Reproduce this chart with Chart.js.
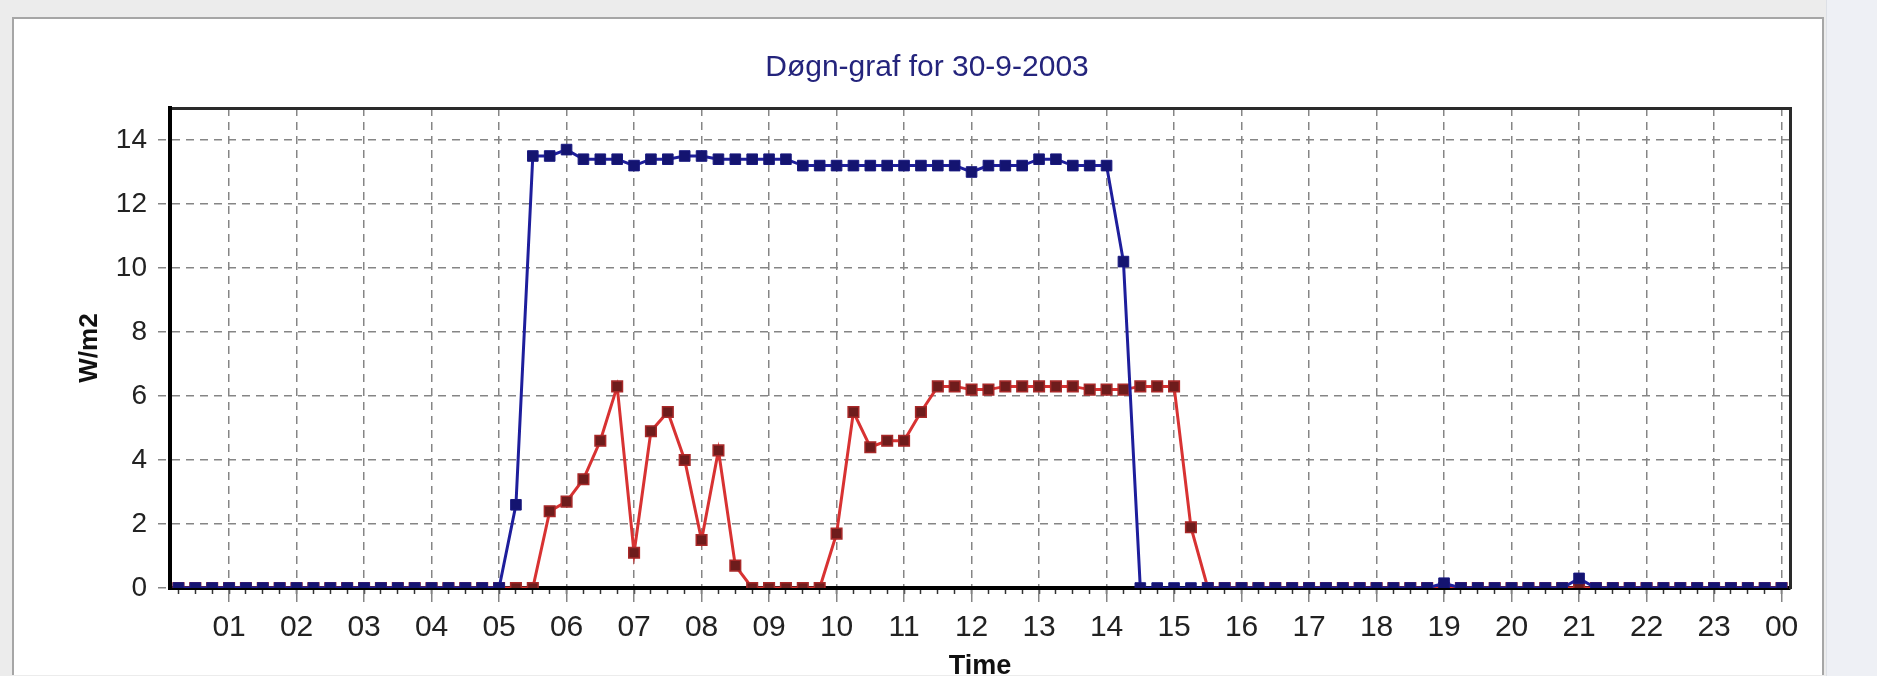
<!DOCTYPE html>
<html>
<head>
<meta charset="utf-8">
<title>Døgn-graf</title>
<script src="https://cdn.jsdelivr.net/npm/chart.js@4.4.1/dist/chart.umd.min.js"></script>
<style>
html, body { margin: 0; padding: 0; }
body { width: 1877px; height: 676px; background: #ececec; position: relative; overflow: hidden; }
#side  { position: absolute; left: 1826px; top: 0; width: 51px; height: 676px; background: #eef0f5; border-left: 1px solid #dde0e6; }
#panel { position: absolute; left: 12px; top: 17px; width: 1808px; height: 656px; background: #fff; border: 2px solid #a6a6a6; border-bottom: 0; }
#chart { position: absolute; left: 0; top: 0; }
</style>
</head>
<body>
<div id="side"></div>
<div id="panel"></div>
<canvas id="chart" width="1877" height="676"></canvas>
<script>
// kvarterstider langs x-aksen
var kvarter = [
  "00:15","00:30","00:45","01:00", "01:15","01:30","01:45","02:00",
  "02:15","02:30","02:45","03:00", "03:15","03:30","03:45","04:00",
  "04:15","04:30","04:45","05:00", "05:15","05:30","05:45","06:00",
  "06:15","06:30","06:45","07:00", "07:15","07:30","07:45","08:00",
  "08:15","08:30","08:45","09:00", "09:15","09:30","09:45","10:00",
  "10:15","10:30","10:45","11:00", "11:15","11:30","11:45","12:00",
  "12:15","12:30","12:45","13:00", "13:15","13:30","13:45","14:00",
  "14:15","14:30","14:45","15:00", "15:15","15:30","15:45","16:00",
  "16:15","16:30","16:45","17:00", "17:15","17:30","17:45","18:00",
  "18:15","18:30","18:45","19:00", "19:15","19:30","19:45","20:00",
  "20:15","20:30","20:45","21:00", "21:15","21:30","21:45","22:00",
  "22:15","22:30","22:45","23:00", "23:15","23:30","23:45","00:00"
];

// etiketter for hele timer
var timeEtiketter = ["01","02","03","04","05","06","07","08","09","10","11","12",
                     "13","14","15","16","17","18","19","20","21","22","23","00"];

// serie 1 (blå)
var serie1 = [
  0, 0, 0, 0, 0, 0, 0, 0,
  0, 0, 0, 0, 0, 0, 0, 0,
  0, 0, 0, 0, 2.6, 13.5, 13.5, 13.7,
  13.4, 13.4, 13.4, 13.2, 13.4, 13.4, 13.5, 13.5,
  13.4, 13.4, 13.4, 13.4, 13.4, 13.2, 13.2, 13.2,
  13.2, 13.2, 13.2, 13.2, 13.2, 13.2, 13.2, 13.0,
  13.2, 13.2, 13.2, 13.4, 13.4, 13.2, 13.2, 13.2,
  10.2, 0, 0, 0, 0, 0, 0, 0,
  0, 0, 0, 0, 0, 0, 0, 0,
  0, 0, 0, 0.15, 0, 0, 0, 0,
  0, 0, 0, 0.3, 0, 0, 0, 0,
  0, 0, 0, 0, 0, 0, 0, 0
];

// serie 2 (rød)
var serie2 = [
  0, 0, 0, 0, 0, 0, 0, 0,
  0, 0, 0, 0, 0, 0, 0, 0,
  0, 0, 0, 0, 0, 0, 2.4, 2.7,
  3.4, 4.6, 6.3, 1.1, 4.9, 5.5, 4.0, 1.5,
  4.3, 0.7, 0, 0, 0, 0, 0, 1.7,
  5.5, 4.4, 4.6, 4.6, 5.5, 6.3, 6.3, 6.2,
  6.2, 6.3, 6.3, 6.3, 6.3, 6.3, 6.2, 6.2,
  6.2, 6.3, 6.3, 6.3, 1.9, 0, 0, 0,
  0, 0, 0, 0, 0, 0, 0, 0,
  0, 0, 0, 0, 0, 0, 0, 0,
  0, 0, 0, 0, 0, 0, 0, 0,
  0, 0, 0, 0, 0, 0, 0, 0
];

// y-aksen
var ymin  = 0;
var ymax  = 15;
var ystep = 2;

var gridFarge = "#858585";
function erTime(i) { return (i + 1) % 4 === 0; }

var ctx = document.getElementById("chart").getContext("2d");

var chart = new Chart(ctx, {
    type: "line",
    data: {
        labels: kvarter,
        datasets: [
            {
            label:                "Serie 1",
            data:                 serie1,
            xAxisID:              "x",
            yAxisID:              "y",
            borderColor:          "#1e1e9c",
            borderWidth:          3,
            pointStyle:           "rect",
            pointRadius:          7.5,
            pointBackgroundColor: "#141470",
            pointBorderColor:     "#1a1a80",
            pointBorderWidth:     1,
            tension:              0,
            },
            {
            label:                "Serie 2",
            data:                 serie2,
            xAxisID:              "x",
            yAxisID:              "y",
            borderColor:          "#d83232",
            borderWidth:          3,
            pointStyle:           "rect",
            pointRadius:          7.5,
            pointBackgroundColor: "#6e1c1c",
            pointBorderColor:     "#a82828",
            pointBorderWidth:     1.5,
            tension:              0,
            },
        ]
    },
    options: {
        responsive: false,
        animation:  false,
        devicePixelRatio: 1,
        layout: { padding: { left: 64, right: 87, top: 0, bottom: 0 } },
        plugins: {
            legend:  { display: false },
            tooltip: { enabled: false },
            title: {
                display: true,
                text:    "Døgn-graf for 30-9-2003",
                color:   "#24247c",
                font:    { family: "Liberation Sans", size: 30, weight: "normal" },
                padding: { top: 50, bottom: 22 },
            },
        },
        scales: {
            xm: {
                type:     "category",
                position: "bottom",
                weight:   0,
                offset:   true,
                ticks:    { display: false },
                grid:     { drawOnChartArea: false, offset: false, tickLength: 6, tickColor: "#333", tickWidth: 1.5 },
                border:   { display: false },
                afterFit: function (s) { s.height = 0; },
            },
            x: {
                type:     "category",
                position: "bottom",
                weight:   1,
                offset:   true,
                ticks: {
                    autoSkip:    false,
                    maxRotation: 0,
                    padding:     8,
                    color:       "#222",
                    font:        { family: "'Liberation Sans Narrow', 'Liberation Sans'", size: 30 },
                    callback: function (value, index) {
                        return erTime(index) ? timeEtiketter[(index + 1) / 4 - 1] : "";
                    },
                },
                grid: {
                    offset:     false,
                    lineWidth:  1.5,
                    tickLength: 14,
                    tickWidth:  1.5,
                    color:      function (c) { return erTime(c.index) ? gridFarge : "rgba(0,0,0,0)"; },
                    tickColor:  function (c) { return erTime(c.index) ? gridFarge : "rgba(0,0,0,0)"; },
                },
                border: { color: "#000", width: 4, dash: [8, 6] },
                title: {
                    display: true,
                    text:    "Time",
                    color:   "#111",
                    font:    { family: "Liberation Sans", size: 27, weight: "bold" },
                    padding: { top: 0, bottom: -7 },
                },
                afterFit: function (s) { s.height = 88; },
            },
            xTop: {
                type:     "category",
                position: "top",
                offset:   true,
                ticks:    { display: false },
                grid:     { drawOnChartArea: false, drawTicks: false },
                border:   { color: "#2a2a2a", width: 3 },
                afterFit: function (s) { s.height = 0; },
            },
            y: {
                position: "left",
                min:      ymin,
                max:      ymax,
                ticks: {
                    stepSize:      ystep,
                    includeBounds: false,
                    padding:       11,
                    color:         "#222",
                    font:          { family: "Liberation Sans", size: 28 },
                },
                grid: {
                    color:          gridFarge,
                    lineWidth:      1.5,
                    tickLength:     12,
                    tickColor:      gridFarge,
                    tickBorderDash: [8, 6],
                },
                border: { color: "#000", width: 4, dash: [8, 6] },
                title: {
                    display: true,
                    text:    "W/m2",
                    color:   "#111",
                    font:    { family: "Liberation Sans", size: 26, weight: "bold" },
                    padding: { top: 10, bottom: 0 },
                },
                afterFit: function (s) { s.width = 106; },
            },
            yRight: {
                position: "right",
                min:      ymin,
                max:      ymax,
                ticks:    { display: false },
                grid:     { drawOnChartArea: false, drawTicks: false },
                border:   { color: "#2a2a2a", width: 3 },
                afterFit: function (s) { s.width = 0; },
            },
        }
    }
});
</script>
</body>
</html>
